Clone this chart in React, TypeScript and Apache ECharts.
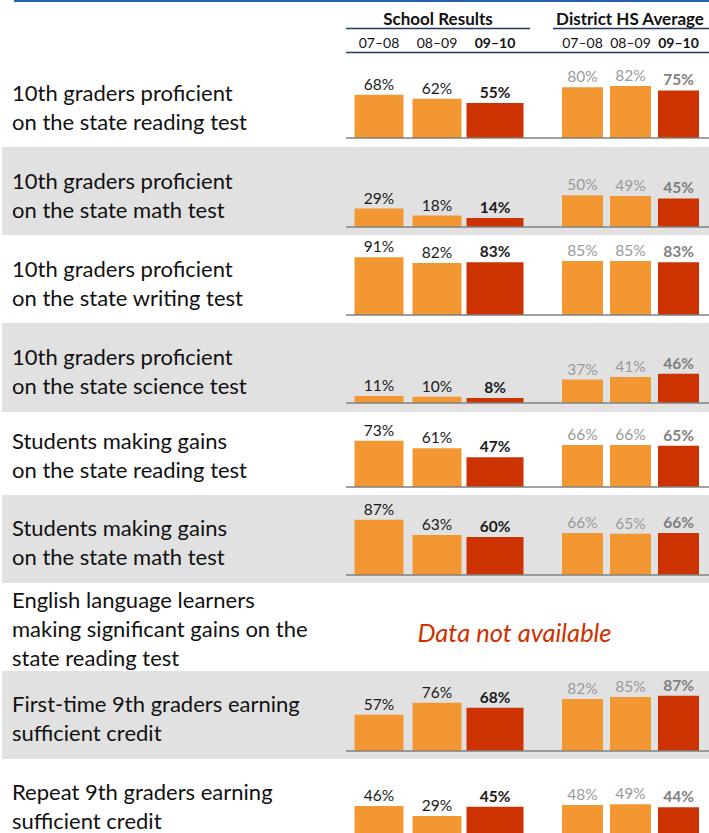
import React, { useEffect, useRef } from 'react';
import * as echarts from 'echarts';

// ---------------- data ----------------
const years = ['07–08', '08–09', '09–10'];
const groupTitles = ['School Results', 'District HS Average'];
const rowLabels = [
  '10th graders proficient\non the state reading test',
  '10th graders proficient\non the state math test',
  '10th graders proficient\non the state writing test',
  '10th graders proficient\non the state science test',
  'Students making gains\non the state reading test',
  'Students making gains\non the state math test',
  'English language learners\nmaking significant gains on the\nstate reading test',
  'First-time 9th graders earning\nsufficient credit',
  'Repeat 9th graders earning\nsufficient credit',
];
const schoolResults: (number[] | null)[] = [
  [68, 62, 55],
  [29, 18, 14],
  [91, 82, 83],
  [11, 10, 8],
  [73, 61, 47],
  [87, 63, 60],
  null,
  [57, 76, 68],
  [46, 29, 45],
];
const districtAverage: (number[] | null)[] = [
  [80, 82, 75],
  [50, 49, 45],
  [85, 85, 83],
  [37, 41, 46],
  [66, 66, 65],
  [66, 65, 66],
  null,
  [82, 85, 87],
  [48, 49, 44],
];
const missingNote = 'Data not available';

// ---------------- layout / style ----------------
const W = 709;
const H = 833;
const FONT = 'Lato, "Open Sans", sans-serif';
const FULL_H = 63.5; // pixels for 100%
const HEADER_LINE_Y = 52.5;
const rowTop = [52, 147, 235, 323, 412, 495, 583, 671, 759];
const rowBottom = [147, 235, 323, 412, 495, 583, 671, 759, 847];
const rowBase = [138, 227, 315, 403, 487, 575, 663, 751, 838];
const rowTextY = [107, 195, 283, 371, 455, 542, 628, 718, 806];
const ORANGE = '#F39732';
const RED = '#CC3300';
const NAVY = '#1F3864';

const groupStyles = [
  {
    left: 350, width: 174, priorW: 49, currW: 57, titleX: 438, lineX: [346, 530],
    priorLabel: { color: '#1a1a1a', fontWeight: 'normal' },
    currLabel: { color: '#1a1a1a', fontWeight: 'bold' },
  },
  {
    left: 558.5, width: 144, priorW: 41, currW: 41, titleX: 630, lineX: [553, 709],
    priorLabel: { color: '#9a9a9a', fontWeight: 'normal' },
    currLabel: { color: '#7f7f7f', fontWeight: 'bold' },
  },
];

function buildOption() {
  const grid: any[] = [];
  const xAxis: any[] = [];
  const yAxis: any[] = [];
  const series: any[] = [];
  const graphic: any[] = [];

  // top border
  graphic.push({ type: 'rect', shape: { x: 14, y: 0, width: W - 14, height: 2 }, style: { fill: '#2B5DAE' }, z: 10 });

  // row backgrounds and row labels
  rowLabels.forEach((_, r) => {
    if (r % 2 === 1) {
      graphic.push({
        type: 'rect', z: -10,
        shape: { x: 2, y: rowTop[r], width: W - 2, height: rowBottom[r] - rowTop[r] },
        style: { fill: '#E1E1E1' },
      });
    }
    graphic.push({
      type: 'text', z: 10, x: 12, y: rowTextY[r],
      style: {
        text: rowLabels[r], fontFamily: FONT, fontSize: 22, lineHeight: 29,
        fill: '#111111', verticalAlign: 'middle', align: 'left',
      },
    });
  });

  // headers
  groupStyles.forEach((g, gi) => {
    graphic.push({
      type: 'text', z: 10, x: g.titleX, y: 18,
      style: { text: groupTitles[gi], fontFamily: FONT, fontSize: 17, fontWeight: 'bold', fill: '#111111', align: 'center', verticalAlign: 'middle' },
    });
    graphic.push({ type: 'line', z: 10, shape: { x1: g.lineX[0], y1: 28.5, x2: g.lineX[1], y2: 28.5 }, style: { stroke: NAVY, lineWidth: 1.5 } });
  });
  graphic.push({ type: 'line', z: 10, shape: { x1: 346, y1: HEADER_LINE_Y, x2: W, y2: HEADER_LINE_Y }, style: { stroke: NAVY, lineWidth: 1.5 } });

  const datasets = [schoolResults, districtAverage];
  rowLabels.forEach((_, r) => {
    if (!schoolResults[r]) {
      graphic.push({
        type: 'text', z: 10, x: 514.5, y: rowTextY[r] + 4,
        style: { text: missingNote, fontFamily: FONT, fontSize: 25.5, fontStyle: 'italic', fill: RED, align: 'center', verticalAlign: 'middle' },
      });
      return;
    }
    graphic.push({ type: 'line', z: 10, shape: { x1: 346, y1: rowBase[r], x2: W, y2: rowBase[r] }, style: { stroke: '#808080', lineWidth: 1.5 } });
    groupStyles.forEach((g, gi) => {
      const vals = datasets[gi][r] as number[];
      const gIdx = grid.length;
      const gridTop = rowBase[r] - FULL_H;
      grid.push({ left: g.left, width: g.width, top: gridTop, height: FULL_H, containLabel: false });
      yAxis.push({ gridIndex: gIdx, type: 'value', min: 0, max: 100, show: false });
      const first = r === 0;
      const xPrior = xAxis.length;
      xAxis.push({
        gridIndex: gIdx, type: 'category', data: years, show: first,
        position: 'top', offset: first ? gridTop - HEADER_LINE_Y : 0,
        axisLine: { show: false }, axisTick: { show: false }, splitLine: { show: false },
        axisLabel: {
          show: first, interval: 0, margin: 3,
          formatter: (v: string, i: number) => (i === years.length - 1 ? `{b|${v}}` : `{n|${v}}`),
          rich: {
            n: { fontFamily: FONT, fontSize: 14, color: '#111111' },
            b: { fontFamily: FONT, fontSize: 14, color: '#111111', fontWeight: 'bold' },
          },
        },
      });
      const xCurr = xAxis.length;
      xAxis.push({ gridIndex: gIdx, type: 'category', data: years, show: false });
      const last = vals.length - 1;
      const mkLabel = (st: any) => ({
        show: true, position: 'top', distance: 3, formatter: '{c}%',
        fontFamily: FONT, fontSize: 15.5, color: st.color, fontWeight: st.fontWeight,
      });
      series.push({
        type: 'bar', xAxisIndex: xPrior, yAxisIndex: gIdx, barWidth: g.priorW,
        data: vals.map((v, i) => (i < last ? v : '-')),
        itemStyle: { color: ORANGE }, label: mkLabel(g.priorLabel), silent: true,
      });
      series.push({
        type: 'bar', xAxisIndex: xCurr, yAxisIndex: gIdx, barWidth: g.currW,
        data: vals.map((v, i) => (i === last ? v : '-')),
        itemStyle: { color: RED }, label: mkLabel(g.currLabel), silent: true,
      });
    });
  });

  return { animation: false, backgroundColor: '#ffffff', grid, xAxis, yAxis, series, graphic: { elements: graphic } };
}

export default function App() {
  const ref = useRef<HTMLDivElement>(null);
  useEffect(() => {
    document.body.style.margin = '0';
    if (!ref.current) return;
    const chart = echarts.init(ref.current, undefined, { renderer: 'svg' });
    chart.setOption(buildOption() as any);
    return () => chart.dispose();
  }, []);
  return <div ref={ref} style={{ width: W, height: H }} />;
}
